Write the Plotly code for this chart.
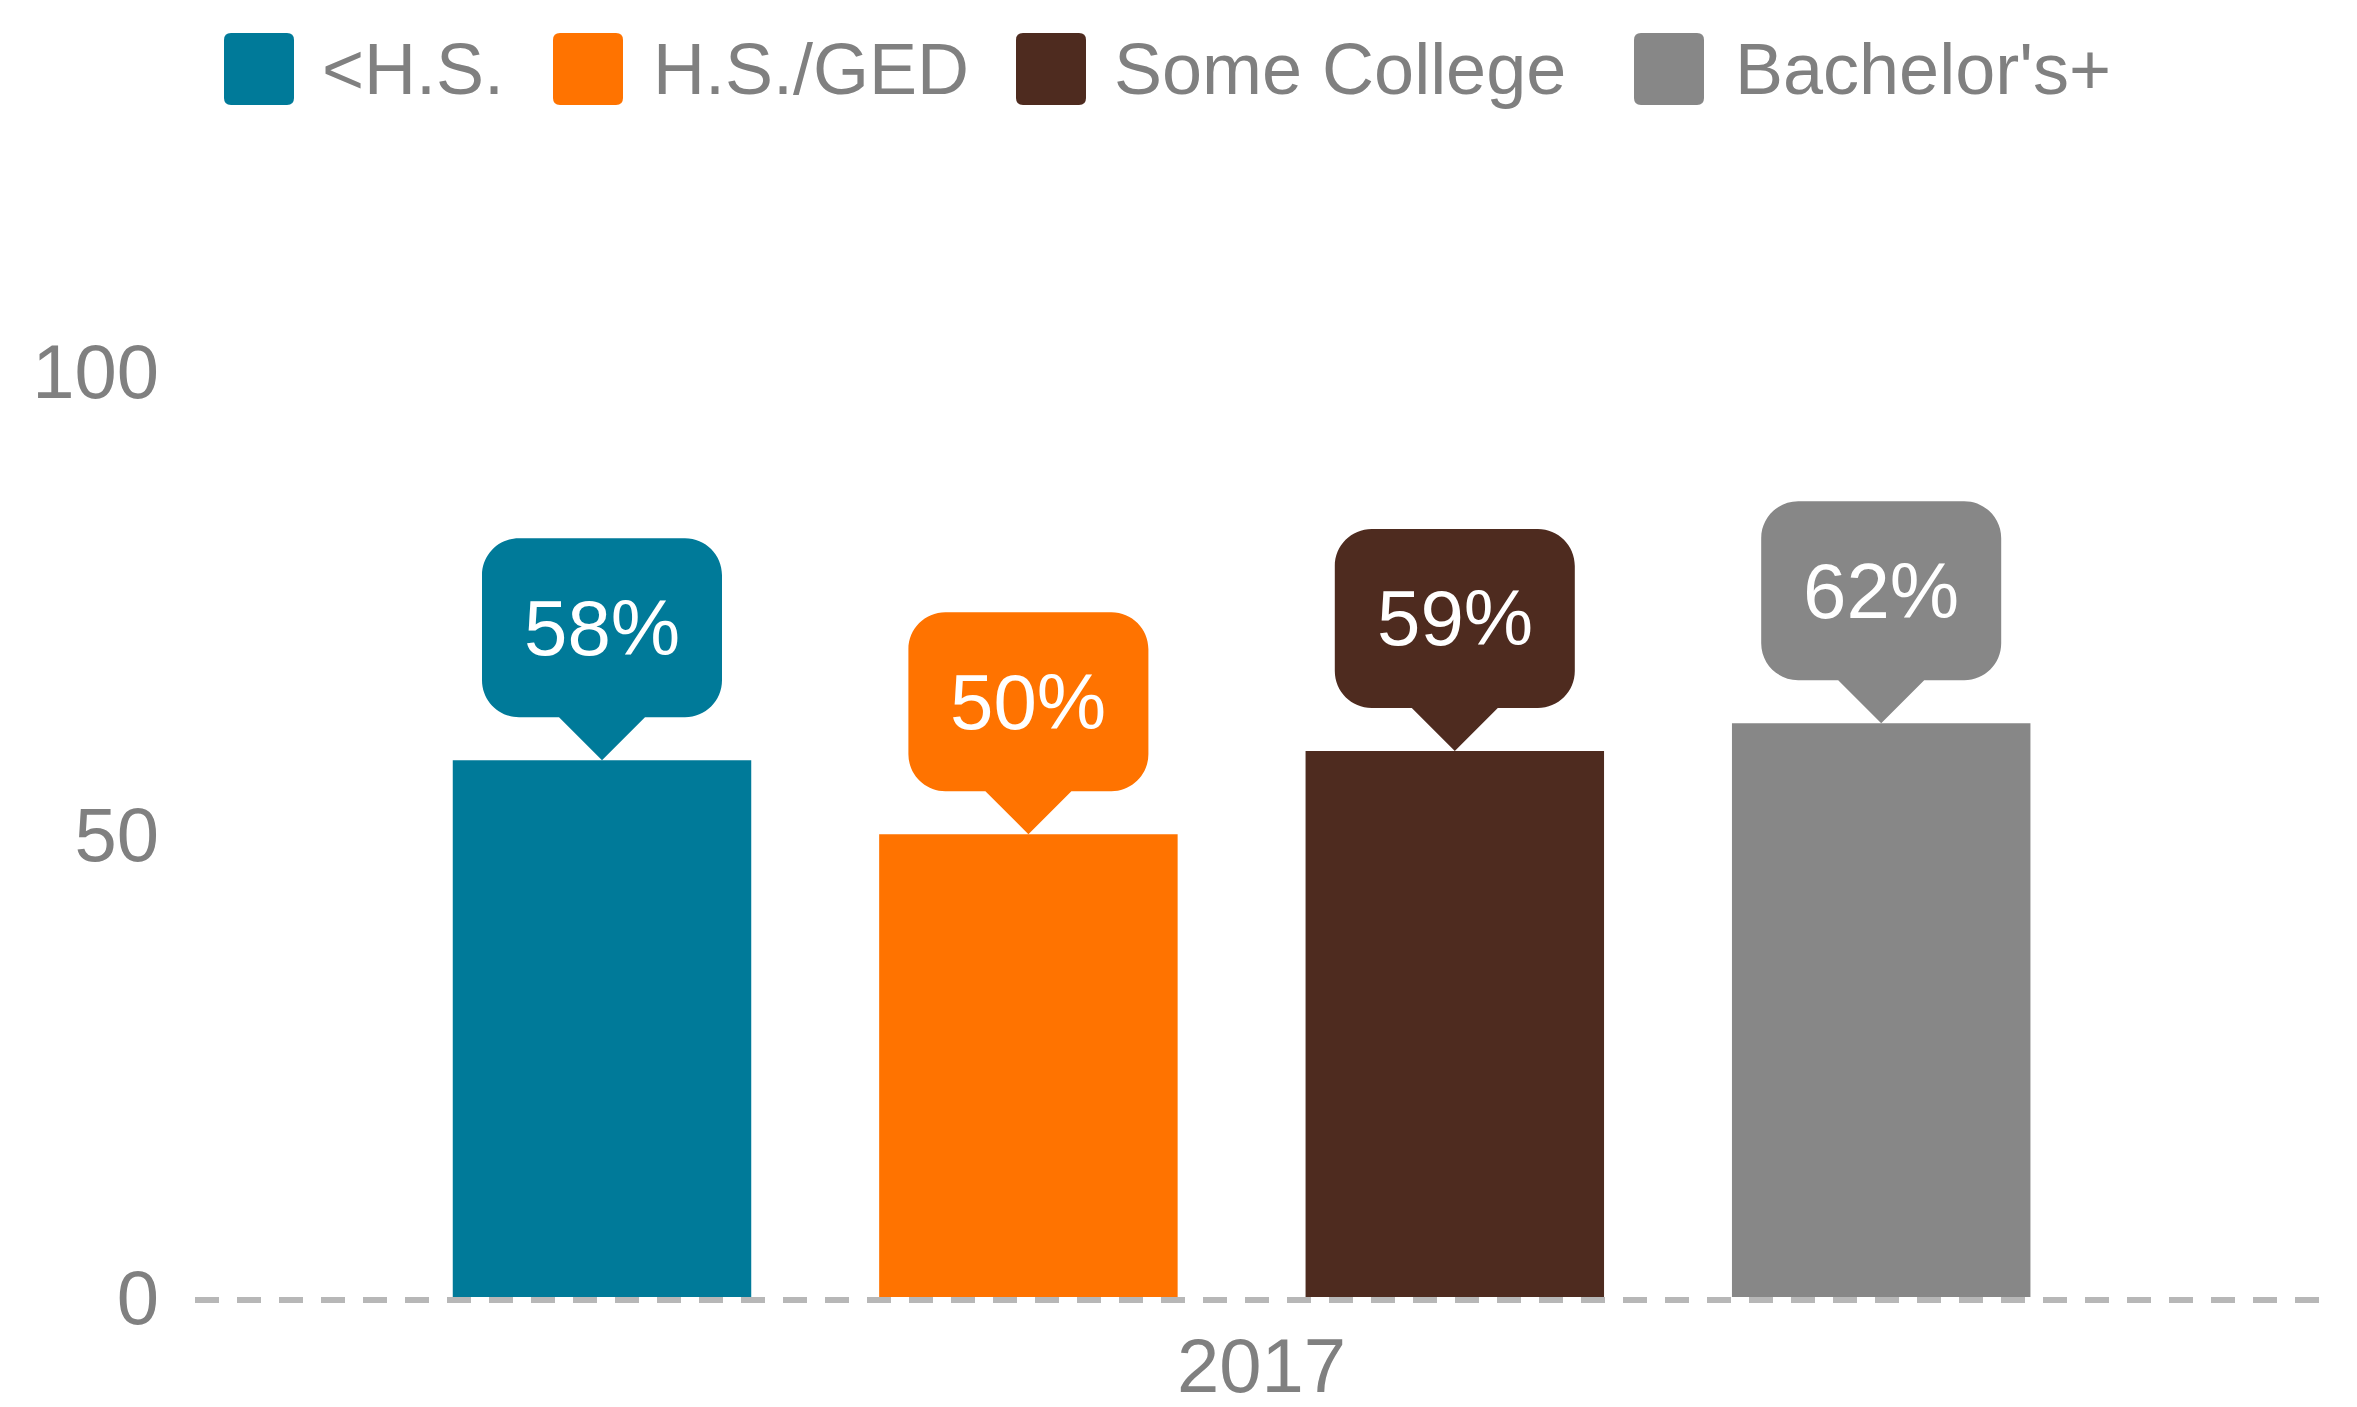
import plotly.graph_objects as go

# ---- data ----
categories = ["2017"]
series_names = ["&lt;H.S.", "H.S./GED", "Some College", "Bachelor's+"]
series_values = [58, 50, 59, 62]
value_labels = ["58%", "50%", "59%", "62%"]
y_tick_vals = [0, 50, 100]

# ---- styles ----
colors = ["#007A99", "#FF7300", "#4E2B1F", "#878787"]
FONT = "Liberation Sans, Arial, sans-serif"
TXT = "#808080"
W, H = 2357, 1407
ML, MR, MT, MB = 195, 30, 140, 110
BARGAP, BARGROUPGAP = 0.2, 0.3
XSHIFT = 0.4909  # category position inside plot area

fig = go.Figure()
for name, val, col in zip(series_names, series_values, colors):
    fig.add_trace(go.Bar(x=categories, y=[val], name=name, marker_color=col,
                         marker_line_width=0, showlegend=False))

# callout shapes + labels anchored to bar tops
n = len(series_values)
slot = (1 - BARGAP) / n
P, HW, BW, BH, R = 43, 43, 120, 179, 37
k = 0.5523 * R
path = (f"M0,0 L{HW},{P} L{BW-R},{P} C{BW-R+k},{P} {BW},{P+R-k} {BW},{P+R} "
        f"L{BW},{P+BH-R} C{BW},{P+BH-R+k} {BW-R+k},{P+BH} {BW-R},{P+BH} "
        f"L{-(BW-R)},{P+BH} C{-(BW-R+k)},{P+BH} {-BW},{P+BH-R+k} {-BW},{P+BH-R} "
        f"L{-BW},{P+R} C{-BW},{P+R-k} {-(BW-R+k)},{P} {-(BW-R)},{P} L{-HW},{P} Z")
for i, (val, lab, col) in enumerate(zip(series_values, value_labels, colors)):
    xpos = -(1 - BARGAP) / 2 + slot * (i + 0.5)
    fig.add_shape(type="path", xref="x", yref="y", xsizemode="pixel", ysizemode="pixel",
                  xanchor=xpos, yanchor=val, path=path, fillcolor=col,
                  line_width=0, layer="above")
    fig.add_annotation(x=xpos, y=val, xref="x", yref="y", text=lab, showarrow=False,
                       yshift=P + BH / 2, font=dict(family=FONT, size=78, color="white"))

# dashed baseline (paper refs so it is not clipped)
fig.add_shape(type="line", xref="paper", yref="paper", ysizemode="pixel", yanchor=0,
              x0=0, x1=1, y0=-3, y1=-3, layer="below",
              line=dict(color="#B7B7B7", width=6, dash="24px,18px"))

# custom legend (large rounded swatches)
leg_sw_x = [29, 358, 821, 1439]
leg_txt_x = [125, 456, 917, 1538]
sw, sr = 70, 7
for i, (name, col) in enumerate(zip(series_names, colors)):
    x0 = leg_sw_x[i]
    y0, y1 = 35, 107
    x1 = x0 + sw
    p = (f"M{x0+sr},{y0} L{x1-sr},{y0} Q{x1},{y0} {x1},{y0+sr} L{x1},{y1-sr} "
         f"Q{x1},{y1} {x1-sr},{y1} L{x0+sr},{y1} Q{x0},{y1} {x0},{y1-sr} "
         f"L{x0},{y0+sr} Q{x0},{y0} {x0+sr},{y0} Z")
    fig.add_shape(type="path", xref="paper", yref="paper", xsizemode="pixel",
                  ysizemode="pixel", xanchor=0, yanchor=1 + 0 * MT, path=p, fillcolor=col,
                  line_width=0)
    fig.add_annotation(xref="paper", yref="paper", x=0, y=1, xanchor="left",
                       yanchor="middle", xshift=leg_txt_x[i], yshift=71, text=name,
                       showarrow=False, font=dict(family=FONT, size=72, color=TXT))

fig.update_layout(
    width=W, height=H, barmode="group", bargap=BARGAP, bargroupgap=BARGROUPGAP,
    margin=dict(l=ML, r=MR, t=MT, b=MB, autoexpand=False),
    plot_bgcolor="white", paper_bgcolor="white",
    showlegend=False, font=dict(family=FONT, color=TXT),
)
fig.update_xaxes(type="category", range=[-XSHIFT, 1 - XSHIFT], showgrid=False,
                 zeroline=False, showline=False, ticks="", automargin=False,
                 tickfont=dict(family=FONT, size=76, color=TXT),
                 ticklabelshift=20, ticklabelstandoff=18)
fig.update_yaxes(range=[0, 125], tickvals=y_tick_vals, showgrid=False, zeroline=False,
                 showline=False, ticks="", automargin=False,
                 tickfont=dict(family=FONT, size=76, color=TXT),
                 ticklabelstandoff=35)

fig.write_html("out.html")
